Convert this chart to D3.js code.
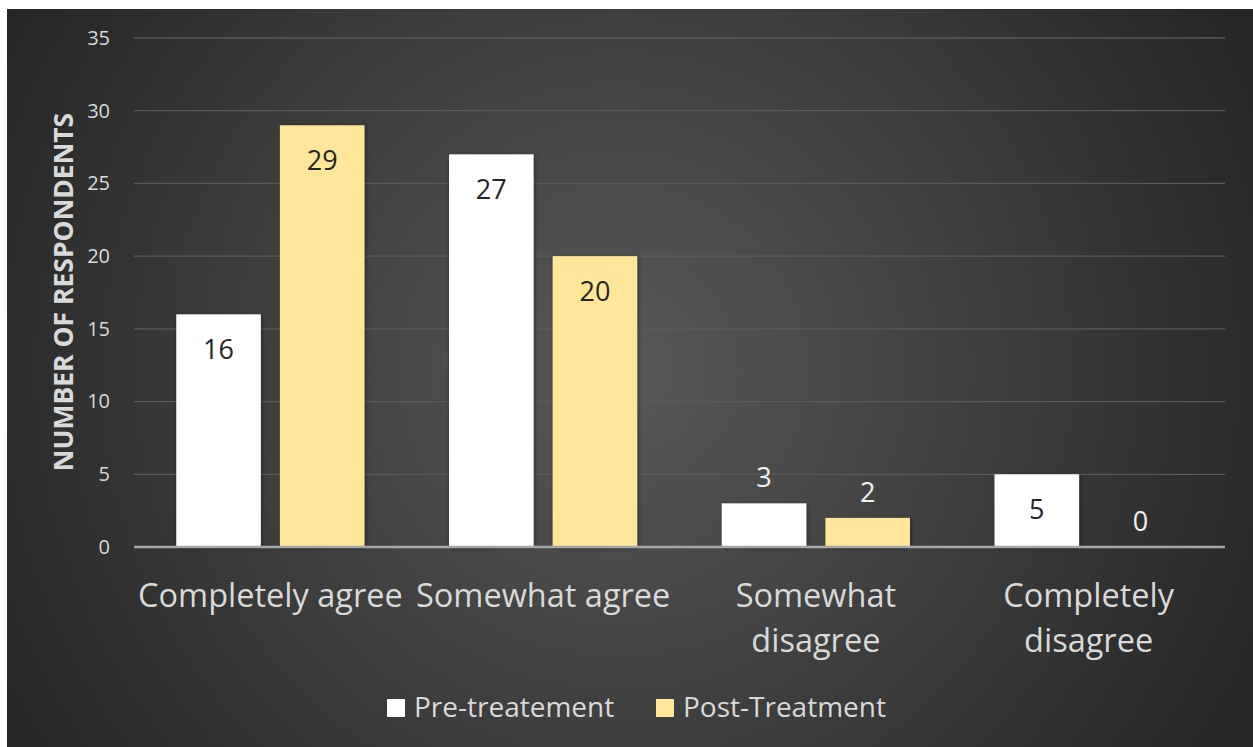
<!DOCTYPE html>
<html><head><meta charset="utf-8">
<script src="https://cdn.jsdelivr.net/npm/d3@7"></script>
<style>body{margin:0;background:#fff}svg{display:block}</style>
</head><body>
<script>
const categories = [["Completely agree"], ["Somewhat agree"], ["Somewhat", "disagree"], ["Completely", "disagree"]];
const seriesNames = ["Pre-treatement", "Post-Treatment"];
const preValues = [16, 27, 3, 5];
const postValues = [29, 20, 2, 0];
const yTicks = [0, 5, 10, 15, 20, 25, 30, 35];
const colors = ["#ffffff", "#ffe699"];

const W = 1253, H = 747;
const svg = d3.select("body").append("svg").attr("width", W).attr("height", H);
const defs = svg.append("defs");
const grad = defs.append("radialGradient").attr("id", "bg").attr("gradientUnits", "userSpaceOnUse")
  .attr("cx", 620).attr("cy", 370).attr("r", 700);
grad.append("stop").attr("offset", "0%").attr("stop-color", "#585858");
grad.append("stop").attr("offset", "100%").attr("stop-color", "#262626");
const sh = defs.append("filter").attr("id", "sh").attr("x", "-20%").attr("y", "-20%").attr("width", "140%").attr("height", "140%");
sh.append("feDropShadow").attr("dx", 1).attr("dy", 1).attr("stdDeviation", 2).attr("flood-color", "#000").attr("flood-opacity", 0.45);

svg.append("rect").attr("x", 7).attr("y", 9).attr("width", W - 7).attr("height", H - 9).attr("fill", "url(#bg)");

const font = "Open Sans, Noto Sans, sans-serif";
const x0 = d3.scaleBand().domain(d3.range(categories.length)).range([134, 1225]).paddingInner(0.31).paddingOuter(0.155);
const x1 = d3.scaleBand().domain([0, 1]).range([0, x0.bandwidth()]).paddingInner(0.184);
const y = d3.scaleLinear().domain([0, 35]).range([547, 38]);

// gridlines
svg.append("g").selectAll("line").data(yTicks.filter(d => d > 0)).join("line")
  .attr("x1", 134).attr("x2", 1225).attr("y1", d => y(d)).attr("y2", d => y(d))
  .attr("stroke", "#5a5a5a").attr("stroke-width", 1.3);

// y tick labels
const yAxis = d3.axisLeft(y).tickValues(yTicks).tickSize(0).tickPadding(0);
const ga = svg.append("g").attr("transform", "translate(110,0)").call(yAxis);
ga.select(".domain").remove();
ga.selectAll("text").attr("fill", "#d9d9d9").attr("font-size", 20).attr("font-family", font);

// y title
svg.append("text").attr("transform", "translate(73,292) rotate(-90)").attr("text-anchor", "middle")
  .attr("fill", "#d9d9d9").attr("font-size", 26.5).attr("font-weight", "bold").attr("font-family", font)
  .text("NUMBER OF RESPONDENTS");

const data = categories.map((c, i) => [preValues[i], postValues[i]]);
const gBars = svg.append("g");
data.forEach((vals, i) => {
  vals.forEach((v, s) => {
    const bx = x0(i) + x1(s), bw = x1.bandwidth();
    if (v > 0) gBars.append("rect").attr("x", bx).attr("y", y(v)).attr("width", bw).attr("height", y(0) - y(v))
      .attr("fill", colors[s]).attr("filter", "url(#sh)");
    const inside = (y(0) - y(v)) > 60;
    gBars.append("text").attr("x", bx + bw / 2).attr("y", inside ? y(v) + 45 : y(v) - 16)
      .attr("text-anchor", "middle").attr("font-size", 27).attr("font-family", font)
      .attr("fill", inside ? "#262626" : "#f2f2f2").text(v);
  });
});

// baseline
svg.append("line").attr("x1", 134).attr("x2", 1225).attr("y1", y(0)).attr("y2", y(0))
  .attr("stroke", "#a6a6a6").attr("stroke-width", 2.5);

// category labels
categories.forEach((lines, i) => {
  const t = svg.append("text").attr("text-anchor", "middle").attr("fill", "#d9d9d9")
    .attr("font-size", 32.5).attr("font-family", font);
  lines.forEach((l, k) => t.append("tspan").attr("x", x0(i) + x0.bandwidth() / 2).attr("y", 607 + k * 45).text(l));
});

// legend
const leg = [{x: 387, name: seriesNames[0], c: colors[0]}, {x: 656, name: seriesNames[1], c: colors[1]}];
leg.forEach(d => {
  svg.append("rect").attr("x", d.x).attr("y", 699).attr("width", 18).attr("height", 18).attr("fill", d.c);
  svg.append("text").attr("x", d.x + 27).attr("y", 717).attr("fill", "#d9d9d9").attr("font-size", 28)
    .attr("font-family", font).text(d.name);
});
</script>
</body></html>
